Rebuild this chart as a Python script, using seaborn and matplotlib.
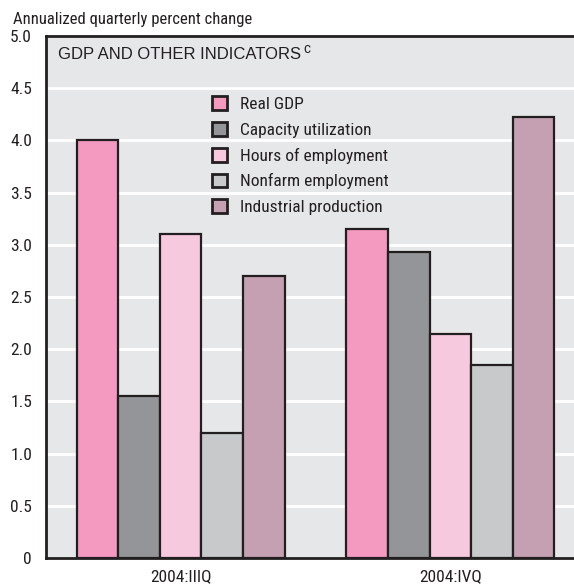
import pandas as pd
import matplotlib
matplotlib.use("Agg")
import matplotlib.pyplot as plt
from matplotlib import font_manager
import seaborn as sns

# data
quarters = ['2004:IIIQ', '2004:IVQ']
indicators = ['Real GDP', 'Capacity utilization', 'Hours of employment',
              'Nonfarm employment', 'Industrial production']
real_gdp = [4.00, 3.15]
capacity = [1.55, 2.93]
hours = [3.10, 2.15]
nonfarm = [1.20, 1.85]
industrial = [2.70, 4.22]
colors = ['#f49ac1', '#939598', '#f7c9df', '#c8c9cb', '#c4a0b2']

yticks = [0, 0.5, 1.0, 1.5, 2.0, 2.5, 3.0, 3.5, 4.0, 4.5, 5.0]
ytick_labels = ['0', '0.5', '1.0', '1.5', '2.0', '2.5', '3.0', '3.5', '4.0', '4.5', '5.0']

rows = []
for name, vals in zip(indicators, [real_gdp, capacity, hours, nonfarm, industrial]):
    for q, v in zip(quarters, vals):
        rows.append({'quarter': q, 'indicator': name, 'value': v})
df = pd.DataFrame(rows)


# look for a narrow / condensed face, the chart uses a condensed sans
def narrow_font():
    good = []
    for f in font_manager.fontManager.ttflist:
        nm = (f.name + ' ' + f.fname).lower()
        st = str(f.stretch).lower()
        if f.style != 'normal' or f.weight not in (400, 'normal', 'regular'):
            continue
        if 'narrow' in nm or 'condensed' in nm or 'condensed' in st:
            if 'extra' in nm or 'ultra' in nm or 'semi' in nm:
                continue
            good.append(f.fname)
    for key in ['liberationsansnarrow', 'roboto', 'notosans', 'opensans', 'dejavu']:
        for p in good:
            if key in p.lower().replace('-', '').replace('_', ''):
                return p
    return good[0] if good else None


sns.set_style('white')
plt.rcParams['font.family'] = ['Liberation Sans', 'DejaVu Sans']
nf = narrow_font()


def fp(size):
    if nf:
        return font_manager.FontProperties(fname=nf, size=size)
    return font_manager.FontProperties(family=['Liberation Sans', 'DejaVu Sans'],
                                       size=size * 0.85)


dark = '#231f20'
fig = plt.figure(figsize=(5.74, 5.86), dpi=100)
ax = fig.add_axes([0.0801, 0.0478, 0.9199, 0.8908])
ax.set_facecolor('#e6e7e8')

sns.barplot(data=df, x='quarter', y='value', hue='indicator',
            order=quarters, hue_order=indicators, palette=colors,
            saturation=1, width=0.771, edgecolor=dark, linewidth=1.6,
            ax=ax, legend=False, zorder=3)

ax.set_ylim(0, 5.0)
ax.set_xlim(-0.499, 1.458)
ax.set_yticks(yticks)
ax.set_yticklabels(ytick_labels, color=dark)
for t in ax.get_yticklabels():
    t.set_fontproperties(fp(12.5))
for t in ax.get_xticklabels():
    t.set_fontproperties(fp(12.5))
    t.set_color(dark)
ax.tick_params(axis='y', direction='in', length=12, width=2, color=dark, pad=10)
ax.tick_params(axis='x', length=0, pad=8)
ax.yaxis.grid(True, color='white', linewidth=2, zorder=0)
ax.set_axisbelow(True)
ax.set_xlabel('')
ax.set_ylabel('')
for s in ['left', 'bottom', 'top']:
    ax.spines[s].set_color(dark)
    ax.spines[s].set_linewidth(2)
ax.spines['right'].set_visible(False)

handles = [plt.Rectangle((0, 0), 1, 1, facecolor=c, edgecolor=dark, linewidth=2)
           for c in colors]
leg = ax.legend(handles, indicators, loc='upper left', bbox_to_anchor=(0.285, 0.914),
                frameon=False, handlelength=0.84, handleheight=0.84,
                handletextpad=0.78, labelspacing=0.56, prop=fp(12.5))
for t in leg.get_texts():
    t.set_color(dark)

ax.text(0.023, 0.979, 'GDP AND OTHER INDICATORS',
        transform=ax.transAxes, ha='left', va='top', fontsize=12,
        color=dark)
ax.text(0.487, 0.988, 'c', transform=ax.transAxes, ha='left', va='top',
        fontsize=10, color=dark)

fig.text(0.022, 0.966, 'Annualized quarterly percent change', ha='left',
         va='center', fontproperties=fp(12), color=dark)

fig.savefig('out.png', dpi=100)
